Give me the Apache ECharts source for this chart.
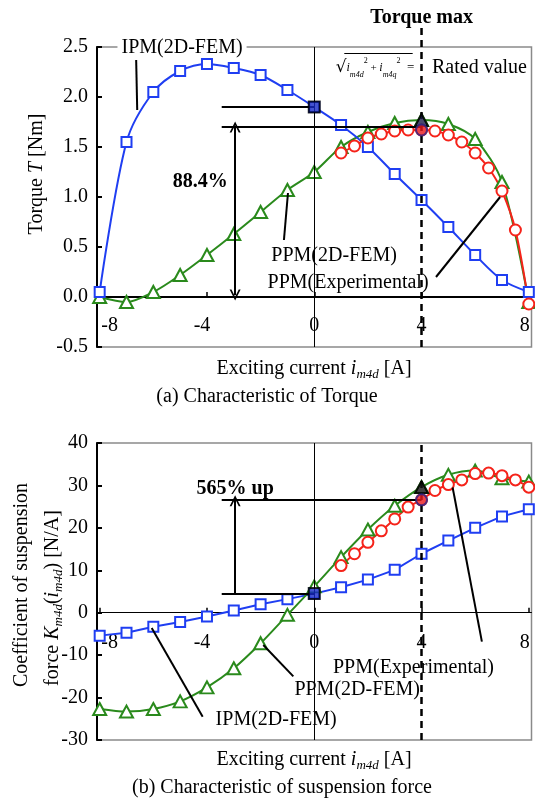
<!doctype html>
<html>
<head>
<meta charset="utf-8">
<title>Torque and suspension force vs exciting current</title>
<script src="https://cdn.jsdelivr.net/npm/echarts@6/dist/echarts.min.js"></script>
<style>
  html, body { margin: 0; padding: 0; background: #fff; }
  #main { width: 535px; height: 800px; }
</style>
</head>
<body>
<div id="main"></div>
<script>
// exciting current i_m4d [A]
var xInt = [-8, -7, -6, -5, -4, -3, -2, -1, 0, 1, 2, 3, 4, 5, 6, 7, 8];
var xExp = [1, 1.5, 2, 2.5, 3, 3.5, 4, 4.5, 5, 5.5, 6, 6.5, 7, 7.5, 8];
var xTicks = [-8, -4, 0, 4, 8];

// (a) torque [Nm]
var torqueIPM = [0.05, 1.55, 2.05, 2.26, 2.33, 2.29, 2.22, 2.07, 1.90, 1.72, 1.50, 1.23, 0.97, 0.70, 0.42, 0.17, 0.05];
var torquePPM = [0.00, -0.05, 0.05, 0.22, 0.42, 0.63, 0.85, 1.07, 1.25, 1.50, 1.65, 1.74, 1.77, 1.73, 1.58, 1.15, -0.05];
var torqueExp = [1.44, 1.51, 1.59, 1.63, 1.66, 1.67, 1.67, 1.66, 1.62, 1.55, 1.44, 1.29, 1.06, 0.67, -0.07];

// (b) coefficient of suspension force [N/A]
var forceIPM = [-5.4, -4.7, -3.3, -2.2, -0.9, 0.5, 2.0, 3.2, 4.5, 6.0, 7.8, 10.1, 13.9, 17.0, 20.0, 22.7, 24.4];
var forcePPM = [-22.7, -23.3, -22.7, -20.9, -17.6, -13.1, -7.2, -0.5, 6.2, 13.1, 19.6, 25.2, 29.6, 32.5, 33.5, 31.7, 30.9];
var forceExp = [11.1, 13.9, 16.6, 19.3, 22.1, 24.9, 26.6, 28.8, 30.2, 31.3, 32.8, 32.9, 32.3, 31.3, 29.6];

var FONT = '"Liberation Serif", "Times New Roman", serif';
var BLUE = '#1f3ef2', GREEN = '#2a8a1c', RED = '#f5231a';
var chevron = 'path://M0,10 L5,0 L10,10 L8.3,10 L5,3.4 L1.7,10 Z';

function pairs(xs, ys) {
  return xs.map(function (x, i) { return [x, ys[i]]; });
}

// x tick labels are nudged off the frame like in the original
var tickRich = {
  a: { fontFamily: FONT, fontSize: 20, padding: [0, 0, 0, 20] },
  b: { fontFamily: FONT, fontSize: 20, padding: [0, 10, 0, 0] },
  c: { fontFamily: FONT, fontSize: 20 },
  d: { fontFamily: FONT, fontSize: 20, padding: [0, 8, 0, 0] }
};
function tickFmt(v) {
  var k = v === -8 ? 'a' : v === -4 ? 'b' : v === 8 ? 'd' : 'c';
  return '{' + k + '|' + v + '}';
}

// labels sit just under the zero line, not under the plot box
function xAxisOpt(grid, lw, labelMargin) {
  return {
    type: 'value', gridIndex: grid, min: -8.1, max: 8.1,
    axisLine: { show: true, onZero: true, lineStyle: { color: '#000', width: lw } },
    axisTick: { show: true, inside: true, length: 5, customValues: xTicks, lineStyle: { color: '#000', width: 1.5 } },
    axisLabel: { customValues: xTicks, margin: labelMargin, color: '#000', fontFamily: FONT, fontSize: 20,
      formatter: tickFmt, rich: tickRich },
    splitLine: { show: false }
  };
}

function yAxisOpt(grid, min, max, step, dec) {
  return {
    type: 'value', gridIndex: grid, min: min, max: max, interval: step,
    axisLine: { show: true, onZero: false, lineStyle: { color: '#000', width: 2 } },
    axisTick: { show: true, inside: true, length: 5, lineStyle: { color: '#000', width: 2 } },
    axisLabel: { margin: 9, color: '#000', fontFamily: FONT, fontSize: 20,
      formatter: function (v) { return v.toFixed(dec); } },
    splitLine: { show: false }
  };
}

function curve(name, grid, data, color, symbol, size, smooth) {
  return {
    name: name, type: 'line', xAxisIndex: grid, yAxisIndex: grid,
    data: data, smooth: smooth, symbol: symbol, symbolSize: size,
    lineStyle: { color: color, width: 2 },
    itemStyle: { color: '#fff', borderColor: color, borderWidth: 2 },
    z: 3
  };
}

function dot(grid, pt, symbol, size, fill, border) {
  return {
    type: 'scatter', xAxisIndex: grid, yAxisIndex: grid, data: [pt],
    symbol: symbol, symbolSize: size,
    itemStyle: { color: fill, borderColor: border, borderWidth: 2 }, z: 6
  };
}

function seg(a, b, extra) {
  var p = [{ coord: a }, { coord: b }];
  if (extra) { Object.assign(p[0], extra[0] || {}); Object.assign(p[1], extra[1] || {}); }
  return p;
}

function txt(coord, text, opts) {
  var lab = Object.assign({ show: true, position: 'inside', formatter: text, color: '#000',
    fontFamily: FONT, fontSize: 20 }, opts || {});
  return { coord: coord, symbol: 'rect', symbolSize: 0, itemStyle: { color: 'transparent' }, label: lab };
}

var markBase = {
  silent: true, symbol: ['none', 'none'], label: { show: false },
  lineStyle: { color: '#000', width: 2, type: 'solid' }
};

var subRich = {
  i: { fontFamily: FONT, fontSize: 20, fontStyle: 'italic', lineHeight: 24 },
  s: { fontFamily: FONT, fontSize: 13, fontStyle: 'italic', verticalAlign: 'bottom', lineHeight: 13 },
  n: { fontFamily: FONT, fontSize: 20, lineHeight: 24 }
};

var chart = echarts.init(document.getElementById('main'));

var option = {
  animation: false,
  backgroundColor: '#fff',
  grid: [
    { left: 97, top: 47, width: 434.5, height: 300, show: true, borderColor: '#8a8a8a', borderWidth: 1.5, backgroundColor: 'transparent' },
    { left: 97, top: 443, width: 434.5, height: 297, show: true, borderColor: '#8a8a8a', borderWidth: 1.5, backgroundColor: 'transparent' }
  ],
  xAxis: [xAxisOpt(0, 2, -31), xAxisOpt(1, 1, -107)],
  yAxis: [yAxisOpt(0, -0.5, 2.5, 0.5, 1), yAxisOpt(1, -30, 40, 10, 0)],
  series: [
    // annotations of (a)
    {
      type: 'scatter', xAxisIndex: 0, yAxisIndex: 0, data: [], z: 5,
      markLine: Object.assign({}, markBase, {
        data: [
          { xAxis: 0, lineStyle: { color: '#000', width: 1, type: 'solid' } },
          { xAxis: 4, lineStyle: { color: '#000', width: 2.5, type: [7, 5] } },
          seg([-3.45, 1.90], [0, 1.90]),
          seg([-3.45, 1.70], [4, 1.70]),
          seg([-2.95, 1.70], [-2.95, 0.02], [{ symbol: chevron, symbolSize: [11, 11] }, { symbol: chevron, symbolSize: [11, 11] }]),
          seg([-6.64, 2.37], [-6.6, 1.87]),
          seg([-1.13, 0.57], [-0.98, 1.04]),
          seg([4.54, 0.20], [6.93, 1.00]),
          seg([1.12, 2.44], [3.67, 2.44], [{ lineStyle: { color: '#000', width: 1, type: 'solid' } }])
        ]
      }),
      markPoint: {
        silent: true,
        data: [
          txt([-4.93, 2.49], 'IPM(2D-FEM)', { backgroundColor: '#fff', padding: [0, 4] }),
          txt([-4.25, 1.15], '88.4%', { fontWeight: 'bold' }),
          txt([0.74, 0.41], 'PPM(2D-FEM)'),
          txt([1.26, 0.14], 'PPM(Experimental)'),
          txt([6.16, 2.29], 'Rated value'),
          txt([0.8, 2.29], '{q|√}{i|i}{s|m4d}{p|2}{n| + }{i|i}{s|m4q}{p|2}{e|  =}', {
            position: 'right', distance: 0,
            rich: {
              q: { fontFamily: '"DejaVu Serif", serif', fontSize: 17, lineHeight: 22 },
              i: { fontFamily: FONT, fontSize: 12, fontStyle: 'italic', lineHeight: 22 },
              s: { fontFamily: FONT, fontSize: 8, fontStyle: 'italic', verticalAlign: 'bottom', lineHeight: 14 },
              p: { fontFamily: FONT, fontSize: 8, verticalAlign: 'top', lineHeight: 14 },
              n: { fontFamily: FONT, fontSize: 11, lineHeight: 22 },
              e: { fontFamily: FONT, fontSize: 13, lineHeight: 22 }
            }
          })
        ]
      }
    },
    curve('PPM(2D-FEM)', 0, pairs(xInt, torquePPM), GREEN, 'triangle', [13, 12], 0.3),
    curve('IPM(2D-FEM)', 0, pairs(xInt, torqueIPM), BLUE, 'rect', 10, 0.3),
    curve('PPM(Experimental)', 0, pairs(xExp, torqueExp), RED, 'circle', 11, 0.3),
    dot(0, [0, torqueIPM[8]], 'rect', 11, '#1528c4', '#000'),
    dot(0, [4, torquePPM[12]], 'triangle', [13, 12], '#1c1c4a', '#000'),
    dot(0, [4, torqueExp[6]], 'circle', 11, '#e8161a', '#2b2b90'),

    // annotations of (b)
    {
      type: 'scatter', xAxisIndex: 1, yAxisIndex: 1, data: [], z: 5,
      markLine: Object.assign({}, markBase, {
        data: [
          { xAxis: 0, lineStyle: { color: '#000', width: 1, type: 'solid' } },
          { xAxis: 4, lineStyle: { color: '#000', width: 2.5, type: [7, 5] } },
          seg([-3.45, 26.6], [4, 26.6]),
          seg([-3.45, 4.5], [0, 4.5]),
          seg([-2.95, 4.5], [-2.95, 26.4], [{}, { symbol: chevron, symbolSize: [11, 11] }]),
          seg([-6.06, -3.6], [-4.16, -24.5]),
          seg([-1.9, -7.6], [-0.78, -15.0]),
          seg([5.16, 29.5], [6.25, -6.8])
        ]
      }),
      markPoint: {
        silent: true,
        data: [
          txt([-2.95, 29.2], '565% up', { fontWeight: 'bold' }),
          txt([-1.42, -25.2], 'IPM(2D-FEM)'),
          txt([1.6, -18.2], 'PPM(2D-FEM)'),
          txt([3.7, -13.0], 'PPM(Experimental)')
        ]
      }
    },
    curve('IPM(2D-FEM)', 1, pairs(xInt, forceIPM), BLUE, 'rect', 10, false),
    curve('PPM(2D-FEM)', 1, pairs(xInt, forcePPM), GREEN, 'triangle', [13, 12], 0.3),
    curve('PPM(Experimental)', 1, pairs(xExp, forceExp), RED, 'circle', 11, 0.3),
    dot(1, [0, forceIPM[8]], 'rect', 11, '#1528c4', '#000'),
    dot(1, [4, forcePPM[12]], 'triangle', [13, 12], '#111', '#000'),
    dot(1, [4, forceExp[6]], 'circle', 11, '#e8161a', '#2b2b90')
  ]
};

chart.setOption(option);

// texts outside the plot areas
var top4 = chart.convertToPixel({ gridIndex: 0 }, [4, 2.5]);
function label(x, y, text, extra) {
  return Object.assign({
    type: 'text', x: x, y: y, z: 10,
    style: Object.assign({ text: text, fill: '#000', font: '20px ' + FONT, align: 'center', verticalAlign: 'middle', rich: subRich }, (extra && extra.style) || {})
  }, extra ? { rotation: extra.rotation || 0 } : {});
}

chart.setOption({
  graphic: [
    { type: 'line', z: 10, shape: { x1: top4[0], y1: 28, x2: top4[0], y2: top4[1] },
      style: { stroke: '#000', lineWidth: 2.5, lineDash: [7, 5] } },
    label(top4[0], 18, 'Torque max', { style: { font: 'bold 20px ' + FONT } }),
    label(314, 369, 'Exciting current {i|i}{s|m4d} [A]'),
    label(267, 397, '(a) Characteristic of Torque'),
    label(37, 174, 'Torque {i|T} [Nm]', { rotation: Math.PI / 2 }),
    label(314, 760, 'Exciting current {i|i}{s|m4d} [A]'),
    label(282, 788, '(b) Characteristic of suspension force'),
    label(22, 585, 'Coefficient of suspension', { rotation: Math.PI / 2 }),
    label(53, 598, 'force {i|K}{s|m4d}({i|i}{s|m4d}) [N/A]', { rotation: Math.PI / 2 })
  ]
});
</script>
</body>
</html>
